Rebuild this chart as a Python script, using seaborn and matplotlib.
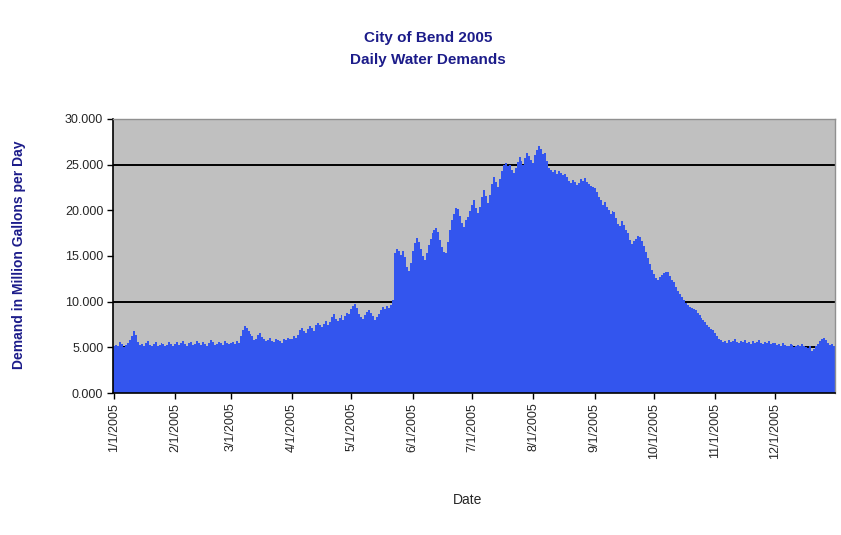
import numpy as np
import pandas as pd
import matplotlib
matplotlib.use("Agg")
import matplotlib.pyplot as plt
import seaborn as sns

# daily demand (million gallons per day)
jan = [5.1, 5.3, 5.2, 5.6, 5.4, 5.0, 5.3, 5.5, 5.8, 6.2, 6.8, 6.4, 5.6, 5.3, 5.4, 5.2,
       5.5, 5.7, 5.3, 5.1, 5.4, 5.6, 5.2, 5.3, 5.5, 5.4, 5.1, 5.3, 5.6, 5.4, 5.2]
feb = [5.4, 5.6, 5.3, 5.5, 5.7, 5.4, 5.2, 5.5, 5.6, 5.3, 5.4, 5.7, 5.5, 5.3, 5.6, 5.4,
       5.2, 5.5, 5.8, 5.6, 5.3, 5.4, 5.6, 5.5, 5.3, 5.7, 5.5, 5.4]
mar = [5.5, 5.6, 5.4, 5.7, 5.5, 6.2, 6.9, 7.3, 7.1, 6.8, 6.5, 6.2, 5.8, 5.9, 6.3, 6.6,
       6.1, 5.9, 5.7, 5.8, 6.0, 5.7, 5.6, 5.9, 5.8, 5.7, 5.5, 5.9, 5.8, 6.0, 5.9]
apr = [5.9, 6.2, 6.0, 6.4, 6.9, 7.1, 6.8, 6.6, 7.0, 7.3, 7.1, 6.8, 7.4, 7.7, 7.5, 7.2,
       7.6, 7.9, 7.4, 7.8, 8.3, 8.6, 8.1, 7.9, 8.2, 8.5, 8.0, 8.4, 8.8, 8.6]
may = [9.2, 9.5, 9.7, 9.3, 8.7, 8.3, 8.1, 8.5, 8.9, 9.1, 8.8, 8.4, 8.0, 8.3, 8.7, 9.1,
       9.4, 9.2, 9.5, 9.3, 9.6, 10.2, 15.3, 15.8, 15.5, 15.1, 15.6, 14.9, 13.8, 13.4, 14.2]
jun = [15.6, 16.4, 17.0, 16.5, 15.8, 15.0, 14.6, 15.3, 16.2, 16.9, 17.5, 17.8, 18.1, 17.6,
       16.8, 16.0, 15.4, 15.3, 16.5, 17.8, 18.9, 19.6, 20.3, 20.1, 19.4, 18.6, 18.2, 18.9,
       19.3, 19.9]
jul = [20.6, 21.1, 20.3, 19.7, 20.4, 21.5, 22.2, 21.6, 20.8, 21.7, 22.9, 23.7, 23.1, 22.6,
       23.4, 24.3, 25.0, 25.2, 24.8, 25.0, 24.4, 24.1, 24.6, 25.3, 25.8, 25.4, 25.0, 25.7,
       26.3, 26.0, 25.5]
aug = [25.2, 26.1, 26.6, 27.0, 26.7, 26.2, 26.3, 25.4, 24.6, 24.4, 24.2, 24.4, 24.0, 24.3,
       24.1, 23.9, 24.0, 23.6, 23.2, 23.0, 23.3, 23.1, 22.8, 23.0, 23.4, 23.2, 23.5, 23.1,
       22.9, 22.7, 22.6]
sep = [22.4, 22.0, 21.5, 21.1, 20.6, 20.9, 20.4, 20.0, 19.6, 19.9, 19.8, 19.2, 18.5, 18.3,
       18.8, 18.4, 17.9, 17.5, 16.8, 16.3, 16.6, 16.9, 17.2, 17.1, 16.6, 16.1, 15.4, 14.8,
       14.1, 13.5]
oct_ = [13.0, 12.6, 12.4, 12.7, 12.9, 13.1, 13.3, 13.2, 12.8, 12.4, 12.1, 11.6, 11.2, 10.8,
        10.5, 10.2, 9.9, 9.6, 9.4, 9.3, 9.2, 9.1, 8.8, 8.5, 8.2, 8.0, 7.8, 7.5, 7.2, 7.0, 6.9]
nov = [6.6, 6.2, 5.9, 5.8, 5.6, 5.7, 5.5, 5.8, 5.6, 5.7, 5.9, 5.6, 5.5, 5.7, 5.6, 5.8,
       5.5, 5.6, 5.4, 5.7, 5.5, 5.6, 5.8, 5.5, 5.4, 5.6, 5.5, 5.7, 5.4, 5.5]
dec = [5.5, 5.3, 5.4, 5.2, 5.5, 5.3, 5.1, 5.2, 5.4, 5.3, 5.0, 5.2, 5.3, 5.1, 5.4, 5.2,
       5.0, 4.9, 5.1, 4.6, 4.8, 5.2, 5.4, 5.7, 5.9, 6.0, 5.8, 5.5, 5.3, 5.4, 5.2]

month_labels = ["1/1/2005", "2/1/2005", "3/1/2005", "4/1/2005", "5/1/2005", "6/1/2005",
                "7/1/2005", "8/1/2005", "9/1/2005", "10/1/2005", "11/1/2005", "12/1/2005"]
y_ticks = [0, 5, 10, 15, 20, 25, 30]
ref_lines = [5, 10, 25]

demand = jan + feb + mar + apr + may + jun + jul + aug + sep + oct_ + nov + dec
dates = pd.date_range("2005-01-01", "2005-12-31", freq="D")
df = pd.DataFrame({"date": dates, "demand": demand})
df["day"] = np.arange(len(df))
month_pos = df.index[df["date"].dt.day == 1].tolist()

sns.set_style("white")
plt.rcParams["font.family"] = ["Liberation Sans", "DejaVu Sans"]

navy = "#1c1c8a"
fig = plt.figure(figsize=(8.41, 5.35), dpi=100)
ax = fig.add_axes([0.1344, 0.2654, 0.8585, 0.5122])
ax.set_facecolor("#c0c0c0")

for y in ref_lines:
    ax.axhline(y, color="black", lw=1.4, zorder=0.5)

sns.barplot(data=df, x="day", y="demand", color="#3355ee", saturation=1,
            width=1.0, errorbar=None, linewidth=0, ax=ax, zorder=2)

ax.set_xlim(-0.5, len(df) - 0.5)
ax.set_ylim(0, 30)
ax.set_yticks(y_ticks)
ax.set_yticklabels([f"{v:.3f}" for v in y_ticks], fontsize=9)
ax.set_xticks(month_pos)
ax.set_xticklabels(month_labels, rotation=90, fontsize=9)
ax.tick_params(axis="both", direction="out", length=4, width=1, color="black",
               bottom=True, left=True, pad=3)
ax.set_xlabel("")
ax.set_ylabel("")

for side in ["left", "bottom"]:
    ax.spines[side].set_color("black")
    ax.spines[side].set_linewidth(1.2)
for side in ["top", "right"]:
    ax.spines[side].set_color("#909090")
    ax.spines[side].set_linewidth(1.0)

fig.text(0.509, 0.909, "City of Bend 2005\nDaily Water Demands", ha="center", va="center",
         fontsize=11, fontweight="bold", color=navy, linespacing=1.7)
fig.text(0.022, 0.523, "Demand in Million Gallons per Day", rotation=90, ha="center",
         va="center", fontsize=10, fontweight="bold", color=navy)
fig.text(0.556, 0.065, "Date", ha="center", va="center", fontsize=10)

fig.savefig("out.png", dpi=100)
